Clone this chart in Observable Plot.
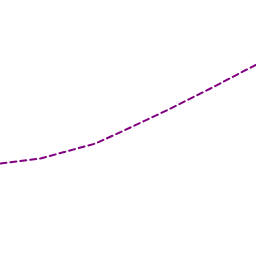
<!DOCTYPE html>
<html><head>
<script src="https://cdn.jsdelivr.net/npm/d3@7"></script>
<script src="https://cdn.jsdelivr.net/npm/@observablehq/plot@0.6"></script>
<style>body{margin:0;background:#fff}</style>
</head><body>
<div id="chart"></div>
<script>
const xs = [0, 40, 95, 130, 168, 210, 256];
const ys = [93, 98, 113, 129, 147, 168, 192];
const data = xs.map((x, i) => ({x, y: ys[i]}));
const chart = Plot.plot({
  width: 256, height: 256,
  margin: 0,
  x: {domain: [0, 256], axis: null},
  y: {domain: [0, 256], axis: null},
  marks: [
    Plot.line(data, {x: "x", y: "y", stroke: "#800080", strokeWidth: 2, strokeDasharray: "6,4"})
  ]
});
document.getElementById("chart").append(chart);
</script>
</body></html>
